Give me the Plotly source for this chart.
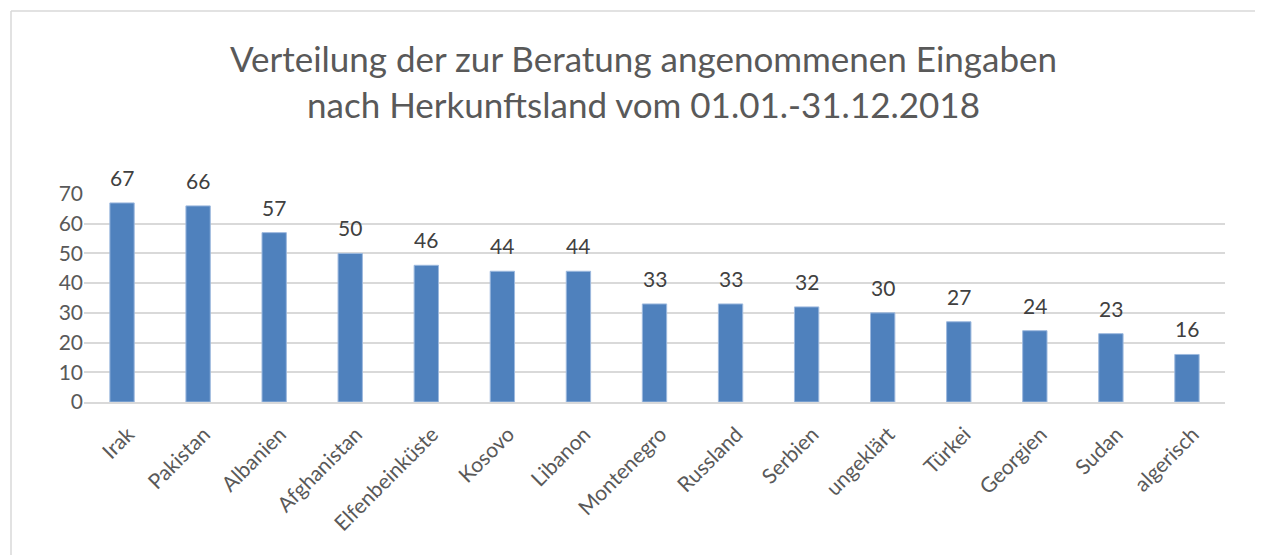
import plotly.graph_objects as go

categories = ["Irak", "Pakistan", "Albanien", "Afghanistan", "Elfenbeinküste", "Kosovo",
              "Libanon", "Montenegro", "Russland", "Serbien", "ungeklärt", "Türkei",
              "Georgien", "Sudan", "algerisch"]
values = [67, 66, 57, 50, 46, 44, 44, 33, 33, 32, 30, 27, 24, 23, 16]
y_ticks = [0, 10, 20, 30, 40, 50, 60, 70]

FONT = "Lato"
OFF = 8  # browser body margin
W, H = 1263 - OFF, 555 - OFF
L, R, T, B = 84 - OFF, 38, 194 - OFF, 153
pw, ph = W - L - R, H - T - B

def px_x(x):
    return (x - OFF - L) / pw

def px_y(y):
    return (H - B - (y - OFF)) / ph

fig = go.Figure(go.Bar(
    x=categories, y=values,
    marker=dict(color="#4F81BD", line=dict(color="#9DB9DE", width=1)),
    width=0.32,
))

annotations = [
    dict(x=c, y=v, text=str(v), showarrow=False, xref="x", yref="y",
         yanchor="bottom", yshift=11,
         font=dict(family=FONT, size=21, color="#404040"))
    for c, v in zip(categories, values)
]

fig.update_layout(
    width=W, height=H,
    margin=dict(l=L, r=R, t=T, b=B),
    paper_bgcolor="white", plot_bgcolor="white",
    showlegend=False,
    font=dict(family=FONT, color="#595959"),
    title=dict(text="Verteilung der zur Beratung angenommenen Eingaben<br>nach Herkunftsland vom 01.01.-31.12.2018",
               x=0.5 + (OFF / 2 + 4) / W, xanchor="center", xref="container",
               y=1 - (72 - OFF) / H, yanchor="middle", yref="container",
               font=dict(family=FONT, size=35, color="#595959")),
    xaxis=dict(tickangle=-45, tickfont=dict(family=FONT, size=21, color="#595959"),
               showline=True, linecolor="#D9D9D9", linewidth=1.5, ticks="",
               showgrid=False, ticklabelstandoff=10, ticklabelshift=6),
    yaxis=dict(range=[0, 70], tickvals=y_ticks, tickfont=dict(family=FONT, size=21, color="#595959"),
               showgrid=True, gridcolor="#D9D9D9", gridwidth=1.5, zeroline=False,
               ticks="", showline=False, ticksuffix="  "),
    annotations=annotations,
    shapes=[
        dict(type="line", xref="paper", yref="paper", x0=px_x(11), x1=px_x(1263), y0=px_y(11), y1=px_y(11),
             line=dict(color="#D9D9D9", width=1.5)),
        dict(type="line", xref="paper", yref="paper", x0=px_x(11), x1=px_x(11), y0=px_y(11), y1=px_y(555),
             line=dict(color="#D9D9D9", width=1.5)),
    ],
)

fig.write_html("out.html")
